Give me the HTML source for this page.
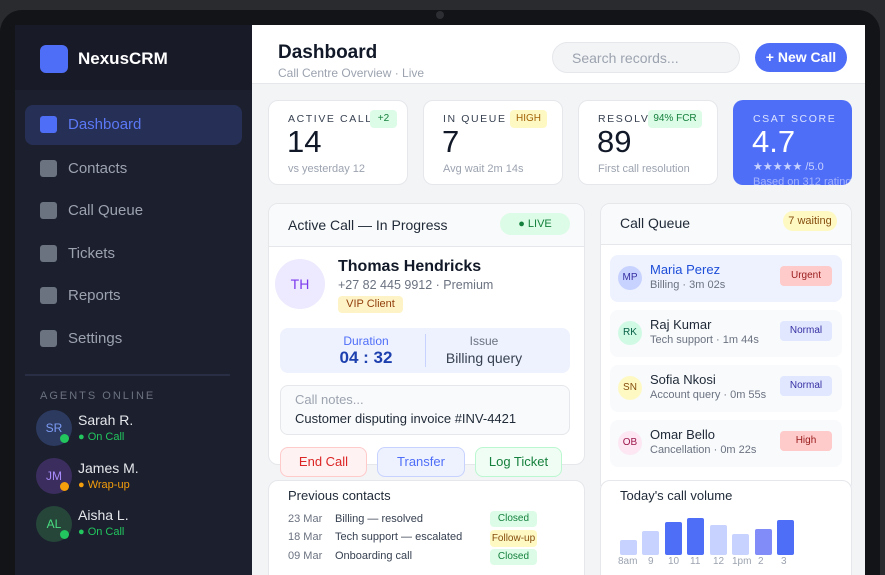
<!DOCTYPE html>
<html style="overflow:hidden;width:885px;height:575px"><head><meta charset="utf-8"><style>
*{box-sizing:border-box;margin:0;padding:0}
body{width:885px;height:575px;overflow:hidden;background:#2a2b2f;font-family:"Liberation Sans",sans-serif;position:relative}
.a{position:absolute}
.frame{left:0;top:10px;width:880px;height:565px;background:#131418;border-radius:22px 22px 0 0}
.screen{left:15px;top:25px;width:850px;height:550px;background:#f3f4f6;overflow:hidden}
.side{left:15px;top:25px;width:237px;height:550px;background:#1c1f2e}
.sidetop{left:15px;top:25px;width:237px;height:65px;background:#181a28}
.nav{left:40px;width:17px;height:17px;border-radius:3px;background:#6b7280}
.navt{left:68px;font-size:15px;color:#9ca3af}
.card{background:#fff;border:1px solid #e5e7eb;border-radius:10px;overflow:hidden}
.lbl{font-size:10.5px;letter-spacing:1.6px;color:#374151}
.big{font-size:31px;color:#111827}
.sub{font-size:11px;color:#9ca3af}
.pill{font-size:10px;border-radius:4px;text-align:center}
.av{border-radius:50%;text-align:center;font-size:12px}
.btn{height:30px;border-radius:8px;font-size:13px;text-align:center;line-height:28px}
.qi{left:610px;width:232px;height:47px;border-radius:8px;background:#f8fafc}
</style></head><body>
<div class="a frame"></div>
<div class="a" style="left:436px;top:11px;width:8px;height:8px;border-radius:50%;background:#2c2e33"></div>
<div class="a screen"></div>
<div class="a side"></div>
<div class="a sidetop"></div>
<div class="a" style="left:40px;top:45px;width:28px;height:28px;border-radius:6px;background:#4f6ef7"></div>
<div class="a" style="left:78px;top:49px;font-size:17px;font-weight:bold;color:#fff">NexusCRM</div>
<div class="a" style="left:25px;top:105px;width:217px;height:40px;border-radius:8px;background:#262f55"></div>
<div class="a nav" style="top:116px;background:#4f6ef7"></div><div class="a navt" style="top:116px;color:#5b78f6">Dashboard</div>
<div class="a nav" style="top:160px"></div><div class="a navt" style="top:160px">Contacts</div>
<div class="a nav" style="top:202px"></div><div class="a navt" style="top:202px">Call Queue</div>
<div class="a nav" style="top:245px"></div><div class="a navt" style="top:245px">Tickets</div>
<div class="a nav" style="top:287px"></div><div class="a navt" style="top:287px">Reports</div>
<div class="a nav" style="top:330px"></div><div class="a navt" style="top:330px">Settings</div>
<div class="a" style="left:25px;top:374px;width:205px;height:2px;background:#2a2e45"></div>
<div class="a" style="left:40px;top:390px;font-size:11px;letter-spacing:2px;color:#6b7280">AGENTS ONLINE</div>
<div class="a av" style="left:36px;top:410px;width:36px;height:36px;line-height:36px;background:#2c3a5f;color:#7c9cf5">SR</div>
<div class="a" style="left:60px;top:434px;width:9px;height:9px;border-radius:50%;background:#22c55e"></div>
<div class="a" style="left:78px;top:412px;font-size:14px;color:#e5e7eb">Sarah R.</div>
<div class="a" style="left:78px;top:431px;font-size:11px;color:#22c55e">● On Call</div>
<div class="a av" style="left:36px;top:458px;width:36px;height:36px;line-height:36px;background:#3b2e5e;color:#a78bfa">JM</div>
<div class="a" style="left:60px;top:482px;width:9px;height:9px;border-radius:50%;background:#f59e0b"></div>
<div class="a" style="left:78px;top:460px;font-size:14px;color:#e5e7eb">James M.</div>
<div class="a" style="left:78px;top:479px;font-size:11px;color:#f59e0b">● Wrap-up</div>
<div class="a av" style="left:36px;top:506px;width:36px;height:36px;line-height:36px;background:#26463a;color:#4ade80">AL</div>
<div class="a" style="left:60px;top:530px;width:9px;height:9px;border-radius:50%;background:#22c55e"></div>
<div class="a" style="left:78px;top:507px;font-size:14px;color:#e5e7eb">Aisha L.</div>
<div class="a" style="left:78px;top:526px;font-size:11px;color:#22c55e">● On Call</div>

<div class="a" style="left:252px;top:25px;width:613px;height:59px;background:#fff;border-bottom:1px solid #e5e7eb"></div>
<div class="a" style="left:278px;top:42px;font-size:19px;font-weight:600;color:#111827">Dashboard</div>
<div class="a" style="left:278px;top:66px;font-size:12px;color:#9ca3af">Call Centre Overview · Live</div>
<div class="a" style="left:552px;top:42px;width:188px;height:31px;border-radius:16px;background:#f3f4f6;border:1px solid #e5e7eb;font-size:14px;color:#9ca3af;padding:7px 0 0 19px">Search records...</div>
<div class="a" style="left:755px;top:43px;width:92px;height:29px;border-radius:15px;background:#4f6ef7;color:#fff;font-size:14px;font-weight:bold;text-align:center;line-height:29px">+ New Call</div>

<div class="a card" style="left:268px;top:100px;width:140px;height:85px"></div>
<div class="a lbl" style="left:288px;top:113px">ACTIVE CALLS</div>
<div class="a pill" style="left:370px;top:110px;width:27px;height:18px;line-height:18px;background:#dcfce7;color:#15803d">+2</div>
<div class="a big" style="left:287px;top:124px">14</div>
<div class="a sub" style="left:288px;top:163px">vs yesterday 12</div>
<div class="a card" style="left:423px;top:100px;width:140px;height:85px"></div>
<div class="a lbl" style="left:443px;top:113px">IN QUEUE</div>
<div class="a pill" style="left:510px;top:110px;width:37px;height:18px;line-height:18px;background:#fef9c3;color:#a16207">HIGH</div>
<div class="a big" style="left:442px;top:124px">7</div>
<div class="a sub" style="left:443px;top:163px">Avg wait 2m 14s</div>
<div class="a card" style="left:578px;top:100px;width:140px;height:85px"></div>
<div class="a lbl" style="left:598px;top:113px">RESOLVED</div>
<div class="a pill" style="left:648px;top:110px;width:54px;height:18px;line-height:18px;background:#dcfce7;color:#15803d">94% FCR</div>
<div class="a big" style="left:597px;top:124px">89</div>
<div class="a sub" style="left:598px;top:163px">First call resolution</div>
<div class="a" style="left:733px;top:100px;width:119px;height:85px;border-radius:10px;background:#4f6ef7;overflow:hidden">
<div class="a lbl" style="left:20px;top:13px;color:#dbe3ff">CSAT SCORE</div>
<div class="a big" style="left:19px;top:24px;color:#fff">4.7</div>
<div class="a sub" style="left:20px;top:60px;color:#c7d2fe">★★★★★ /5.0</div>
<div class="a sub" style="left:20px;top:76px;color:#a5b4fc;white-space:nowrap">Based on 312 ratings</div></div>

<div class="a card" style="left:268px;top:203px;width:317px;height:262px"></div>
<div class="a" style="left:269px;top:204px;width:315px;height:43px;background:#f9fafb;border-bottom:1px solid #e5e7eb;border-radius:10px 10px 0 0"></div>
<div class="a" style="left:288px;top:217px;font-size:14px;color:#1f2937">Active Call — In Progress</div>
<div class="a" style="left:500px;top:213px;width:70px;height:22px;border-radius:11px;background:#dcfce7;color:#15803d;font-size:11px;text-align:center;line-height:22px">● LIVE</div>
<div class="a av" style="left:275px;top:259px;width:50px;height:50px;line-height:50px;background:#ede9fe;color:#7c3aed;font-size:14px">TH</div>
<div class="a" style="left:338px;top:258px;font-size:16px;font-weight:600;color:#111827">Thomas Hendricks</div>
<div class="a" style="left:338px;top:278px;font-size:12.5px;color:#6b7280">+27 82 445 9912 · Premium</div>
<div class="a pill" style="left:338px;top:296px;width:65px;height:17px;line-height:17px;background:#fef3c7;color:#92400e;font-size:11px">VIP Client</div>
<div class="a" style="left:280px;top:328px;width:290px;height:45px;border-radius:8px;background:#eef2ff"></div>
<div class="a" style="left:425px;top:334px;width:1px;height:33px;background:#c7d2fe"></div>
<div class="a" style="left:316px;top:334px;width:100px;text-align:center;font-size:12px;color:#4f6ef7">Duration</div>
<div class="a" style="left:316px;top:348px;width:100px;text-align:center;font-size:17px;font-weight:bold;color:#1e40af">04 : 32</div>
<div class="a" style="left:434px;top:334px;width:100px;text-align:center;font-size:12px;color:#6b7280">Issue</div>
<div class="a" style="left:424px;top:350px;width:120px;text-align:center;font-size:14px;color:#374151">Billing query</div>
<div class="a" style="left:280px;top:385px;width:290px;height:50px;border-radius:8px;background:#f9fafb;border:1px solid #e5e7eb"></div>
<div class="a" style="left:295px;top:392px;font-size:13px;color:#9ca3af">Call notes...</div>
<div class="a" style="left:295px;top:411px;font-size:13px;color:#1f2937">Customer disputing invoice #INV-4421</div>
<div class="a btn" style="left:280px;top:447px;width:87px;background:#fef2f2;border:1px solid #fecaca;color:#dc2626">End Call</div>
<div class="a btn" style="left:377px;top:447px;width:88px;background:#eef2ff;border:1px solid #c7d2fe;color:#4f6ef7">Transfer</div>
<div class="a btn" style="left:475px;top:447px;width:87px;background:#f0fdf4;border:1px solid #bbf7d0;color:#15803d">Log Ticket</div>

<div class="a card" style="left:268px;top:480px;width:317px;height:110px"></div>
<div class="a" style="left:288px;top:488px;font-size:13px;color:#1f2937">Previous contacts</div>
<div class="a" style="left:288px;top:513px;font-size:11px;color:#6b7280">23 Mar</div>
<div class="a" style="left:335px;top:513px;font-size:11px;color:#374151">Billing — resolved</div>
<div class="a pill" style="left:490px;top:511px;width:47px;height:16px;line-height:16px;background:#dcfce7;color:#15803d">Closed</div>
<div class="a" style="left:288px;top:531px;font-size:11px;color:#6b7280">18 Mar</div>
<div class="a" style="left:335px;top:531px;font-size:11px;color:#374151">Tech support — escalated</div>
<div class="a pill" style="left:490px;top:530px;width:47px;height:17px;line-height:17px;background:#fef9c3;color:#854d0e">Follow-up</div>
<div class="a" style="left:288px;top:550px;font-size:11px;color:#6b7280">09 Mar</div>
<div class="a" style="left:335px;top:550px;font-size:11px;color:#374151">Onboarding call</div>
<div class="a pill" style="left:490px;top:549px;width:47px;height:16px;line-height:16px;background:#dcfce7;color:#15803d">Closed</div>

<div class="a card" style="left:600px;top:203px;width:252px;height:290px"></div>
<div class="a" style="left:601px;top:204px;width:250px;height:41px;background:#f9fafb;border-bottom:1px solid #e5e7eb;border-radius:10px 10px 0 0"></div>
<div class="a" style="left:620px;top:215px;font-size:14px;color:#1f2937">Call Queue</div>
<div class="a" style="left:783px;top:211px;width:54px;height:20px;border-radius:10px;background:#fef9c3;color:#854d0e;font-size:11px;text-align:center;line-height:20px">7 waiting</div>

<div class="a qi" style="top:255px;background:#eef2ff"></div>
<div class="a av" style="left:618px;top:266px;width:24px;height:24px;line-height:24px;background:#c7d2fe;color:#3730a3;font-size:10px">MP</div>
<div class="a" style="left:650px;top:262px;font-size:13px;color:#1d4ed8">Maria Perez</div>
<div class="a" style="left:650px;top:279px;font-size:11px;color:#6b7280">Billing · 3m 02s</div>
<div class="a pill" style="left:780px;top:266px;width:52px;height:20px;line-height:20px;background:#fecaca;color:#991b1b">Urgent</div>

<div class="a qi" style="top:310px"></div>
<div class="a av" style="left:618px;top:321px;width:24px;height:24px;line-height:24px;background:#d1fae5;color:#065f46;font-size:10px">RK</div>
<div class="a" style="left:650px;top:317px;font-size:13px;color:#1f2937">Raj Kumar</div>
<div class="a" style="left:650px;top:334px;font-size:11px;color:#6b7280">Tech support · 1m 44s</div>
<div class="a pill" style="left:780px;top:321px;width:52px;height:20px;line-height:20px;background:#e0e7ff;color:#3730a3">Normal</div>

<div class="a qi" style="top:365px"></div>
<div class="a av" style="left:618px;top:376px;width:24px;height:24px;line-height:24px;background:#fef9c3;color:#854d0e;font-size:10px">SN</div>
<div class="a" style="left:650px;top:372px;font-size:13px;color:#1f2937">Sofia Nkosi</div>
<div class="a" style="left:650px;top:389px;font-size:11px;color:#6b7280">Account query · 0m 55s</div>
<div class="a pill" style="left:780px;top:376px;width:52px;height:20px;line-height:20px;background:#e0e7ff;color:#3730a3">Normal</div>

<div class="a qi" style="top:420px"></div>
<div class="a av" style="left:618px;top:431px;width:24px;height:24px;line-height:24px;background:#fce7f3;color:#9d174d;font-size:10px">OB</div>
<div class="a" style="left:650px;top:427px;font-size:13px;color:#1f2937">Omar Bello</div>
<div class="a" style="left:650px;top:444px;font-size:11px;color:#6b7280">Cancellation · 0m 22s</div>
<div class="a pill" style="left:780px;top:431px;width:52px;height:20px;line-height:20px;background:#fecaca;color:#991b1b">High</div>

<div class="a card" style="left:600px;top:480px;width:252px;height:110px"></div>
<div class="a" style="left:620px;top:488px;font-size:13px;color:#1f2937">Today's call volume</div>
<div class="a" style="left:620px;top:540px;width:17px;height:15px;border-radius:2px;background:#c7d2fe"></div>
<div class="a" style="left:642px;top:531px;width:17px;height:24px;border-radius:2px;background:#c7d2fe"></div>
<div class="a" style="left:665px;top:522px;width:17px;height:33px;border-radius:2px;background:#4f6ef7"></div>
<div class="a" style="left:687px;top:518px;width:17px;height:37px;border-radius:2px;background:#4f6ef7"></div>
<div class="a" style="left:710px;top:525px;width:17px;height:30px;border-radius:2px;background:#c7d2fe"></div>
<div class="a" style="left:732px;top:534px;width:17px;height:21px;border-radius:2px;background:#c7d2fe"></div>
<div class="a" style="left:755px;top:529px;width:17px;height:26px;border-radius:2px;background:#818cf8"></div>
<div class="a" style="left:777px;top:520px;width:17px;height:35px;border-radius:2px;background:#4f6ef7"></div>
<div class="a" style="left:614px;top:556px;font-size:10px;color:#9ca3af;width:250px">
<span class="a" style="left:4px">8am</span><span class="a" style="left:34px">9</span><span class="a" style="left:54px">10</span><span class="a" style="left:76px">11</span><span class="a" style="left:99px">12</span><span class="a" style="left:118px">1pm</span><span class="a" style="left:144px">2</span><span class="a" style="left:167px">3</span></div>
</body></html>
